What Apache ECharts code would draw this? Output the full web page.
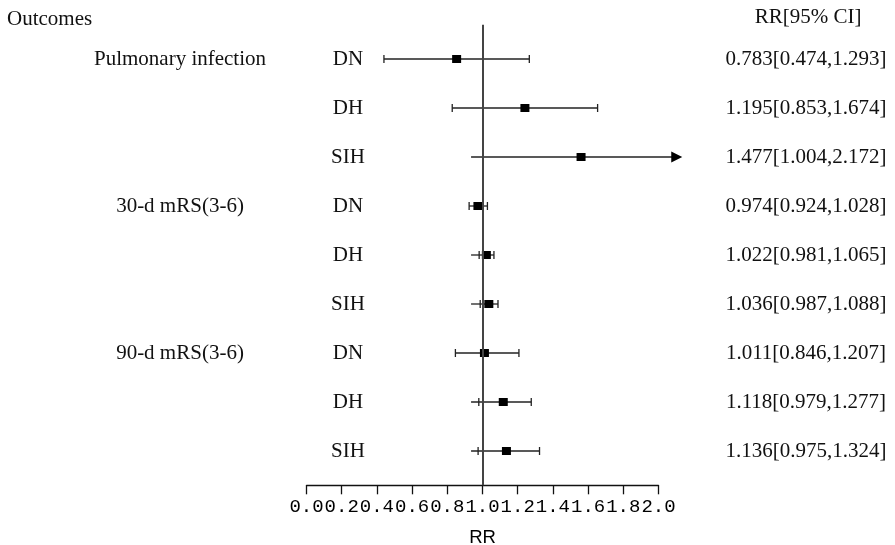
<!DOCTYPE html>
<html><head><meta charset="utf-8">
<script src="https://cdn.jsdelivr.net/npm/echarts@6/dist/echarts.min.js"></script>
<style>html,body{margin:0;padding:0;background:#fff}#c{width:895px;height:545px}</style>
</head><body><div id="c"></div>
<script>
// ---- data ----
const groups = ['Pulmonary infection', '30-d mRS(3-6)', '90-d mRS(3-6)'];
const groupRows = [0, 3, 6];
const subgroups = ['DN', 'DH', 'SIH', 'DN', 'DH', 'SIH', 'DN', 'DH', 'SIH'];
// positions of the marks
const estimate = [0.853, 1.241, 1.560, 0.974, 1.022, 1.036, 1.011, 1.118, 1.136];
const lower    = [0.440, 0.828, 1.004, 0.924, 0.981, 0.987, 0.846, 0.979, 0.975];
const upper    = [1.266, 1.654, 2.135, 1.028, 1.065, 1.088, 1.207, 1.277, 1.324];
// printed estimates
const ciText = ['0.783[0.474,1.293]', '1.195[0.853,1.674]', '1.477[1.004,2.172]',
                '0.974[0.924,1.028]', '1.022[0.981,1.065]', '1.036[0.987,1.088]',
                '1.011[0.846,1.207]', '1.118[0.979,1.277]', '1.136[0.975,1.324]'];
const xMin = 0, xMax = 2, xStep = 0.2;
const refValue = 1;
const whiskerFloor = 0.935;  // lines in the picture start no further right than this

const serif = '"Liberation Serif", "Times New Roman", serif';
const rows = subgroups.map((s, i) => [i, estimate[i], lower[i], upper[i]]);

const chart = echarts.init(document.getElementById('c'), null, {renderer: 'canvas'});
chart.setOption({
  animation: false,
  backgroundColor: '#fff',
  grid: {left: 306.5, right: 236.5, top: 24.7, height: 460.6, containLabel: false, outerBoundsMode: 'none'},
  xAxis: {
    type: 'value', min: xMin, max: xMax, interval: xStep,
    name: 'RR', nameLocation: 'middle', nameGap: 43,
    nameTextStyle: {fontFamily: '"Liberation Sans", Arial, sans-serif', fontSize: 18.5, color: '#000'},
    axisLine: {show: true, onZero: false, lineStyle: {color: '#111', width: 1.3}},
    axisTick: {show: true, length: 9, lineStyle: {color: '#111', width: 1.3}},
    axisLabel: {margin: 12, color: '#000', fontFamily: '"Liberation Mono", monospace', fontSize: 19,
                formatter: v => v.toFixed(1)},
    splitLine: {show: false}
  },
  yAxis: {type: 'value', min: -0.7, max: 8.7, inverse: true, show: false},
  graphic: [
    {type: 'text', left: 7, top: 9, style: {text: 'Outcomes', font: '21px ' + serif, fill: '#111'}},
    {type: 'text', x: 808, y: 17, style: {text: 'RR[95% CI]', font: '21px ' + serif, fill: '#111',
      textAlign: 'center', textVerticalAlign: 'middle', align: 'center', verticalAlign: 'middle'}}
  ],
  series: [
    {
      type: 'custom', clip: false, z: 3,
      data: rows,
      encode: {x: [1, 2, 3], y: 0},
      renderItem: function (params, api) {
        const i = api.value(0), est = api.value(1), lo = api.value(2), hi = api.value(3);
        const y = api.coord([refValue, i])[1];
        const xs = api.coord([Math.min(lo, whiskerFloor), i])[0];
        const xl = api.coord([lo, i])[0];
        const xe = api.coord([est, i])[0];
        const xh = api.coord([hi, i])[0];
        const arrow = hi > xMax;
        const st = {stroke: '#222', lineWidth: 1.3};
        const ch = [];
        ch.push({type: 'line', shape: {x1: xs, y1: y, x2: arrow ? xh - 10 : xh, y2: y}, style: st});
        ch.push({type: 'line', shape: {x1: xl, y1: y - 4, x2: xl, y2: y + 4}, style: st});
        if (arrow) {
          ch.push({type: 'polygon', shape: {points: [[xh, y], [xh - 11, y - 5.5], [xh - 11, y + 5.5]]},
                   style: {fill: '#000'}});
        } else {
          ch.push({type: 'line', shape: {x1: xh, y1: y - 4, x2: xh, y2: y + 4}, style: st});
        }
        ch.push({type: 'rect', shape: {x: xe - 4.5, y: y - 4, width: 9, height: 8}, style: {fill: '#000'}});
        return {type: 'group', children: ch};
      },
      markLine: {
        silent: true, symbol: 'none', z: 4,
        label: {show: false},
        lineStyle: {color: '#444', width: 2, type: 'solid'},
        data: [{xAxis: refValue}]
      }
    },
    {
      type: 'custom', clip: false, z: 5,
      data: rows,
      encode: {x: 1, y: 0},
      renderItem: function (params, api) {
        const i = api.value(0);
        const y = api.coord([refValue, i])[1];
        const mk = (t, x) => ({type: 'text', style: {text: t, x: x, y: y, font: '21px ' + serif, fill: '#111',
          textAlign: 'center', textVerticalAlign: 'middle', align: 'center', verticalAlign: 'middle'}});
        const ch = [mk(subgroups[i], 348), mk(ciText[i], 806)];
        const g = groupRows.indexOf(i);
        if (g >= 0) ch.push(mk(groups[g], 180));
        return {type: 'group', children: ch};
      }
    }
  ]
});
</script></body></html>
